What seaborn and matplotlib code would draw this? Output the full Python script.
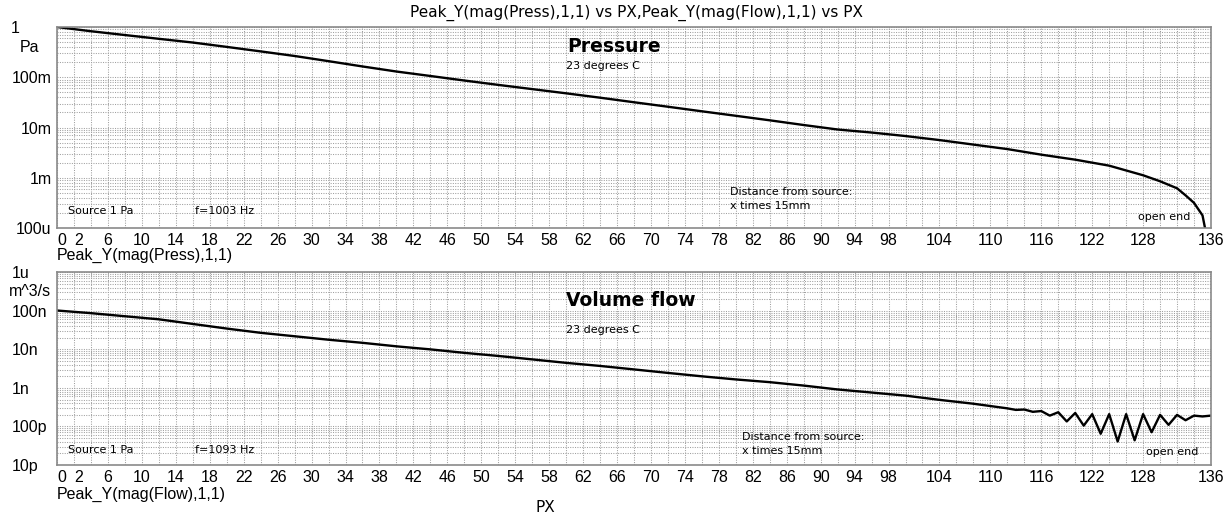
import matplotlib
matplotlib.use("Agg")
import matplotlib.pyplot as plt
import seaborn as sns
import pandas as pd
from matplotlib.ticker import MultipleLocator, LogLocator, NullFormatter

# Peak pressure amplitude along the tube (position index, Pa)
press_x = [0, 4, 8, 12, 16, 20, 24, 28, 32, 36, 40, 44, 48, 52, 56, 60, 64, 68,
           72, 76, 80, 84, 88, 92, 96, 100, 104, 108, 112, 116, 120, 124, 128,
           130, 132, 133, 134, 135, 136]
press_pa = [1.0, 0.824, 0.692, 0.582, 0.491, 0.402, 0.327, 0.265, 0.209, 0.164,
            0.130, 0.106, 0.0861, 0.0705, 0.0581, 0.0479, 0.0392, 0.0318,
            0.0259, 0.0210, 0.0171, 0.0139, 0.0112, 0.00912, 0.00794, 0.00676,
            0.00562, 0.00457, 0.00372, 0.00288, 0.00229, 0.00174, 0.00112,
            0.000851, 0.000617, 0.000447, 0.000316, 0.000178, 0.0000251]

# Peak volume flow along the tube (position index, n m^3/s)
flow_x = [0, 4, 8, 12, 16, 20, 24, 28, 32, 36, 40, 44, 48, 52, 56, 60, 64, 68,
          72, 76, 80, 84, 88, 92, 96, 100, 104, 108, 112, 113, 114, 115, 116,
          117, 118, 119, 120, 121, 122, 123, 124, 125, 126, 127, 128, 129, 130,
          131, 132, 133, 134, 135, 136]
flow_nano = [102, 87.1, 72.4, 60.3, 45.7, 34.7, 26.9, 21.9, 17.8, 14.8, 12.0,
             10.0, 8.13, 6.76, 5.50, 4.47, 3.72, 3.02, 2.45, 2.00, 1.66, 1.41,
             1.15, 0.912, 0.759, 0.631, 0.490, 0.389, 0.295, 0.269, 0.275,
             0.240, 0.251, 0.191, 0.234, 0.135, 0.224, 0.105, 0.209, 0.0646,
             0.209, 0.0407, 0.209, 0.0437, 0.209, 0.0708, 0.200, 0.110, 0.200,
             0.145, 0.191, 0.182, 0.191]

x_tick_pos = [0, 2, 6, 10, 14, 18, 22, 26, 30, 34, 38, 42, 46, 50, 54, 58, 62,
              66, 70, 74, 78, 82, 86, 90, 94, 98, 104, 110, 116, 122, 128, 136]
x_tick_labels = [str(v) for v in x_tick_pos]

press_ticks = [1e-4, 1e-3, 1e-2, 1e-1, 1.0]
press_tick_labels = ["100u", "1m", "10m", "100m", "1"]
flow_ticks = [1e-11, 1e-10, 1e-9, 1e-8, 1e-7, 1e-6]
flow_tick_labels = ["10p", "100p", "1n", "10n", "100n", "1u"]

press_df = pd.DataFrame({"PX": press_x, "p": press_pa})
flow_df = pd.DataFrame({"PX": flow_x, "q": [v * 1e-9 for v in flow_nano]})

sns.set_theme(style="white")
plt.rcParams["font.family"] = ["DejaVu Sans"]
plt.rcParams["text.color"] = "black"
plt.rcParams["xtick.color"] = "black"
plt.rcParams["ytick.color"] = "black"
plt.rcParams["axes.labelcolor"] = "black"

TICK_FONT = ["Liberation Sans", "DejaVu Sans"]
TICK_SIZE = 11.5

W, H = 1230, 518
fig = plt.figure(figsize=(W / 100, H / 100), dpi=100)
fig.patch.set_facecolor("white")


def fx(px):
    return px / W


def fy(py):
    return 1 - py / H


X0, X1 = 57, 1211
ax_p = fig.add_axes([fx(X0), fy(228), (X1 - X0) / W, (228 - 27) / H])
ax_q = fig.add_axes([fx(X0), fy(465), (X1 - X0) / W, (465 - 272.3) / H])

grid_kw = dict(color="#a0a0a0", linestyle=(0, (1, 1.3)), linewidth=0.75)
frame_color = "#8a8a8a"


def style_axis(ax, yticks, ylabels, ylim, label_ha, pad):
    ax.set_yscale("log")
    ax.set_xlim(0, 136)
    ax.set_ylim(*ylim)
    ax.set_facecolor("white")
    ax.xaxis.set_minor_locator(MultipleLocator(2))
    ax.yaxis.set_minor_locator(LogLocator(base=10, subs=range(2, 10)))
    ax.yaxis.set_minor_formatter(NullFormatter())
    ax.grid(True, which="both", axis="both", **grid_kw)
    ax.set_axisbelow(True)
    for sp in ax.spines.values():
        sp.set_visible(True)
        sp.set_color(frame_color)
        sp.set_linewidth(1.2)
    ax.set_xticks(x_tick_pos)
    ax.set_xticklabels(x_tick_labels, fontsize=TICK_SIZE, family=TICK_FONT,
                       color="black")
    ax.set_yticks(yticks)
    ax.set_yticklabels(ylabels, fontsize=TICK_SIZE, family=TICK_FONT,
                       color="black")
    ax.tick_params(axis="both", which="both", length=0)
    ax.tick_params(axis="x", pad=3.5)
    ax.tick_params(axis="y", pad=pad)
    for lab in ax.get_yticklabels():
        lab.set_ha(label_ha)
    for lab in ax.get_xticklabels():
        if lab.get_text() in ("0", "2"):
            lab.set_ha("left")
    ax.set_xlabel("")
    ax.set_ylabel("")


sns.lineplot(data=press_df, x="PX", y="p", ax=ax_p, color="black", linewidth=1.7)
sns.lineplot(data=flow_df, x="PX", y="q", ax=ax_q, color="black", linewidth=1.7)

style_axis(ax_p, press_ticks, press_tick_labels, (1e-4, 1.0), "right", 4.0)
style_axis(ax_q, flow_ticks, flow_tick_labels, (1e-11, 1e-6), "left", 32.5)

# The top "1" label on the pressure axis sits at the far left
top_tick = ax_p.yaxis.get_major_ticks()[-1]
top_tick.set_pad(33.5)
top_tick.label1.set_ha("left")

note = dict(fontsize=8, va="center", ha="left", color="black")

# Annotations inside the pressure panel
ax_p.text(0.442, 0.905, "Pressure", transform=ax_p.transAxes, fontsize=13.5,
          fontweight="bold", va="center", ha="left", color="black")
ax_p.text(0.441, 0.806, "23 degrees C", transform=ax_p.transAxes, **note)
ax_p.text(0.0095, 0.085, "Source 1 Pa", transform=ax_p.transAxes, **note)
ax_p.text(0.1196, 0.085, "f=1003 Hz", transform=ax_p.transAxes, **note)
ax_p.text(0.583, 0.179, "Distance from source:", transform=ax_p.transAxes, **note)
ax_p.text(0.583, 0.109, "x times 15mm", transform=ax_p.transAxes, **note)
ax_p.text(0.937, 0.055, "open end", transform=ax_p.transAxes, **note)

# Annotations inside the flow panel
ax_q.text(0.441, 0.856, "Volume flow", transform=ax_q.transAxes, fontsize=13.5,
          fontweight="bold", va="center", ha="left", color="black")
ax_q.text(0.441, 0.70, "23 degrees C", transform=ax_q.transAxes, **note)
ax_q.text(0.0095, 0.078, "Source 1 Pa", transform=ax_q.transAxes, **note)
ax_q.text(0.1196, 0.078, "f=1093 Hz", transform=ax_q.transAxes, **note)
ax_q.text(0.594, 0.145, "Distance from source:", transform=ax_q.transAxes, **note)
ax_q.text(0.594, 0.073, "x times 15mm", transform=ax_q.transAxes, **note)
ax_q.text(0.944, 0.07, "open end", transform=ax_q.transAxes, **note)

# Figure-level title, units and axis names
fig.text(fx(636), fy(13), "Peak_Y(mag(Press),1,1) vs PX,Peak_Y(mag(Flow),1,1) vs PX",
         fontsize=11, ha="center", va="center")
fig.text(fx(20), fy(47), "Pa", fontsize=TICK_SIZE, ha="left", va="center",
         family=TICK_FONT)
fig.text(fx(9), fy(292), "m^3/s", fontsize=TICK_SIZE, ha="left", va="center",
         family=TICK_FONT)
fig.text(fx(57), fy(255), "Peak_Y(mag(Press),1,1)", fontsize=TICK_SIZE, ha="left",
         va="center", family=TICK_FONT)
fig.text(fx(57), fy(494), "Peak_Y(mag(Flow),1,1)", fontsize=TICK_SIZE, ha="left",
         va="center", family=TICK_FONT)
fig.text(fx(545), fy(508), "PX", fontsize=11, ha="center", va="center")

fig.savefig("out.png", dpi=100, facecolor="white")
